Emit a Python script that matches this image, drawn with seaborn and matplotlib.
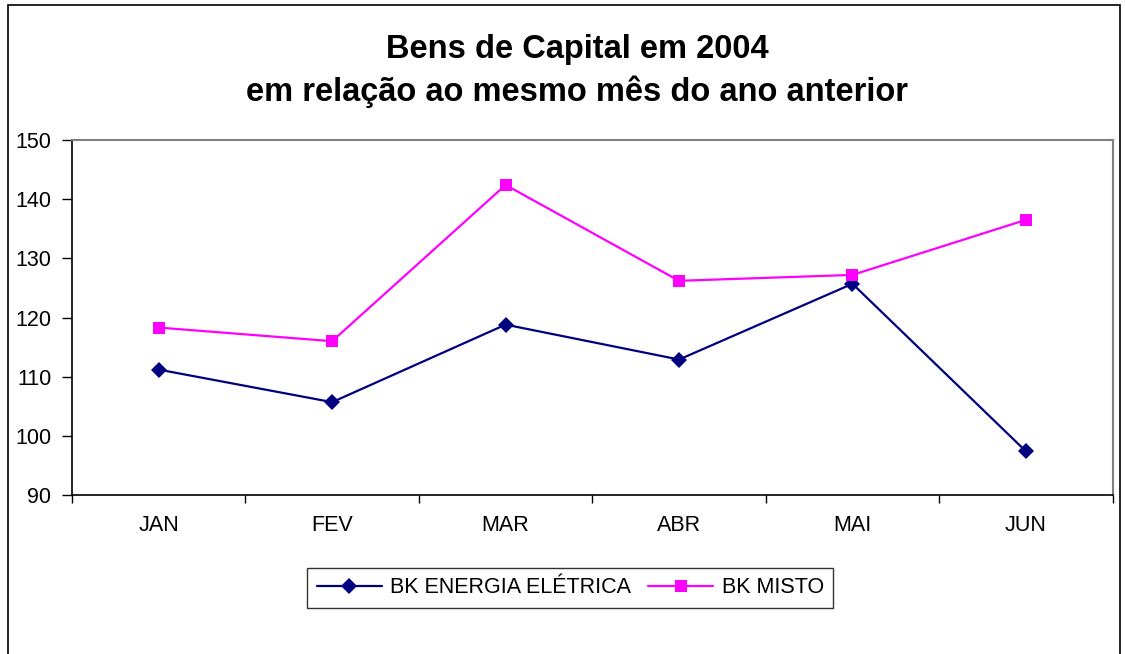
import pandas as pd
import matplotlib.pyplot as plt
import matplotlib.patches as mpatches
import seaborn as sns

# Data
months = ['JAN', 'FEV', 'MAR', 'ABR', 'MAI', 'JUN']
energia = [111.2, 105.7, 118.8, 112.9, 125.7, 97.4]
misto = [118.3, 116.0, 142.4, 126.2, 127.2, 136.5]
series_names = ['BK ENERGIA ELÉTRICA', 'BK MISTO']

df = pd.concat([
    pd.DataFrame({'mes': months, 'valor': energia, 'serie': series_names[0]}),
    pd.DataFrame({'mes': months, 'valor': misto, 'serie': series_names[1]}),
])

sns.set_style('white')
plt.rcParams['font.family'] = ['Liberation Sans', 'DejaVu Sans']
plt.rcParams['text.color'] = 'black'
plt.rcParams['xtick.color'] = 'black'
plt.rcParams['ytick.color'] = 'black'

fig = plt.figure(figsize=(11.25, 6.54), dpi=100)
ax = fig.add_axes([0.064, 0.243, 0.925, 0.543])

palette = {series_names[0]: '#000080', series_names[1]: '#FF00FF'}
markers = {series_names[0]: 'D', series_names[1]: 's'}
sns.lineplot(data=df, x='mes', y='valor', hue='serie', style='serie',
             palette=palette, markers=markers, dashes=False, markersize=8,
             linewidth=1.6, markeredgewidth=0, ax=ax, sort=False)

ax.set_ylim(90, 150)
ax.set_yticks(range(90, 151, 10))
ax.set_xlim(-0.5, len(months) - 0.5)
ax.set_xticks(range(len(months)))
ax.set_xticklabels(months)
ax.set_xticks([i - 0.5 for i in range(len(months) + 1)], minor=True)
ax.tick_params(axis='x', which='major', length=0, pad=14, labelsize=15.5)
ax.tick_params(axis='x', which='minor', length=6, width=1, color='black', direction='out', bottom=True)
ax.tick_params(axis='y', length=7, width=1, color='black', direction='out', left=True, labelsize=15.5, pad=8)
ax.set_xlabel('')
ax.set_ylabel('')

for side in ['top', 'right']:
    ax.spines[side].set_color('#808080')
    ax.spines[side].set_linewidth(1.5)
for side in ['left', 'bottom']:
    ax.spines[side].set_color('black')
    ax.spines[side].set_linewidth(1.2)

fig.suptitle('Bens de Capital em 2004\nem relação ao mesmo mês do ano anterior',
             x=0.513, y=0.948, fontsize=23.5, fontweight='bold', linespacing=1.4)

ax.legend_.remove()
handles, labels = ax.get_legend_handles_labels()
leg = fig.legend(handles, labels, loc='center', bbox_to_anchor=(0.507, 0.101),
                 ncol=2, frameon=True, fancybox=False, edgecolor='black',
                 fontsize=15.5, handlelength=3.0, columnspacing=0.8,
                 handletextpad=0.4, borderpad=0.45, borderaxespad=0)
leg.get_frame().set_linewidth(1)

# outer chart border
fig.patches.append(mpatches.Rectangle((8 / 1125, -0.1), 1112 / 1125, 1.1 - 5 / 654,
                                      transform=fig.transFigure, fill=False,
                                      edgecolor='black', linewidth=1.2))

plt.savefig('out.png', dpi=100)
